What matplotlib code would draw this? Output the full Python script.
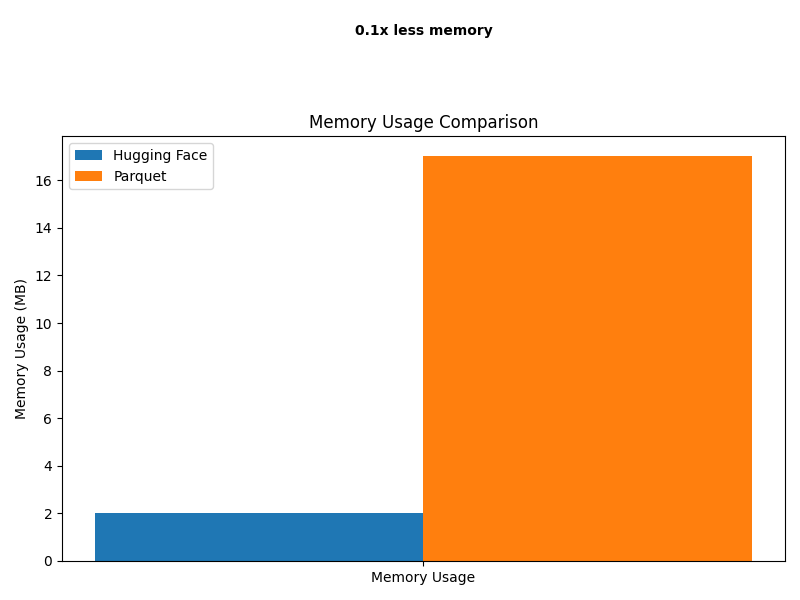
import numpy as np
import matplotlib
matplotlib.use("Agg")
import matplotlib.pyplot as plt

# memory numbers (MB)
categories = ["Memory Usage"]
hf_mem = [2.0]
parquet_mem = [17.0]
ratio_text = "0.1x less memory"

x = np.arange(len(categories))
width = 0.35

fig, ax = plt.subplots(figsize=(8, 6), dpi=100)
fig.subplots_adjust(left=0.0775, right=0.981, top=0.773, bottom=0.065)

ax.bar(x - width/2, hf_mem, width, label="Hugging Face")
ax.bar(x + width/2, parquet_mem, width, label="Parquet")

ax.set_ylabel("Memory Usage (MB)")
ax.set_title("Memory Usage Comparison")
ax.set_xticks(x)
ax.set_xticklabels(categories)
ax.legend(loc="upper left")

fig.text(0.53, 0.949, ratio_text, ha="center", va="center", fontweight="bold")

plt.savefig("out.png")
